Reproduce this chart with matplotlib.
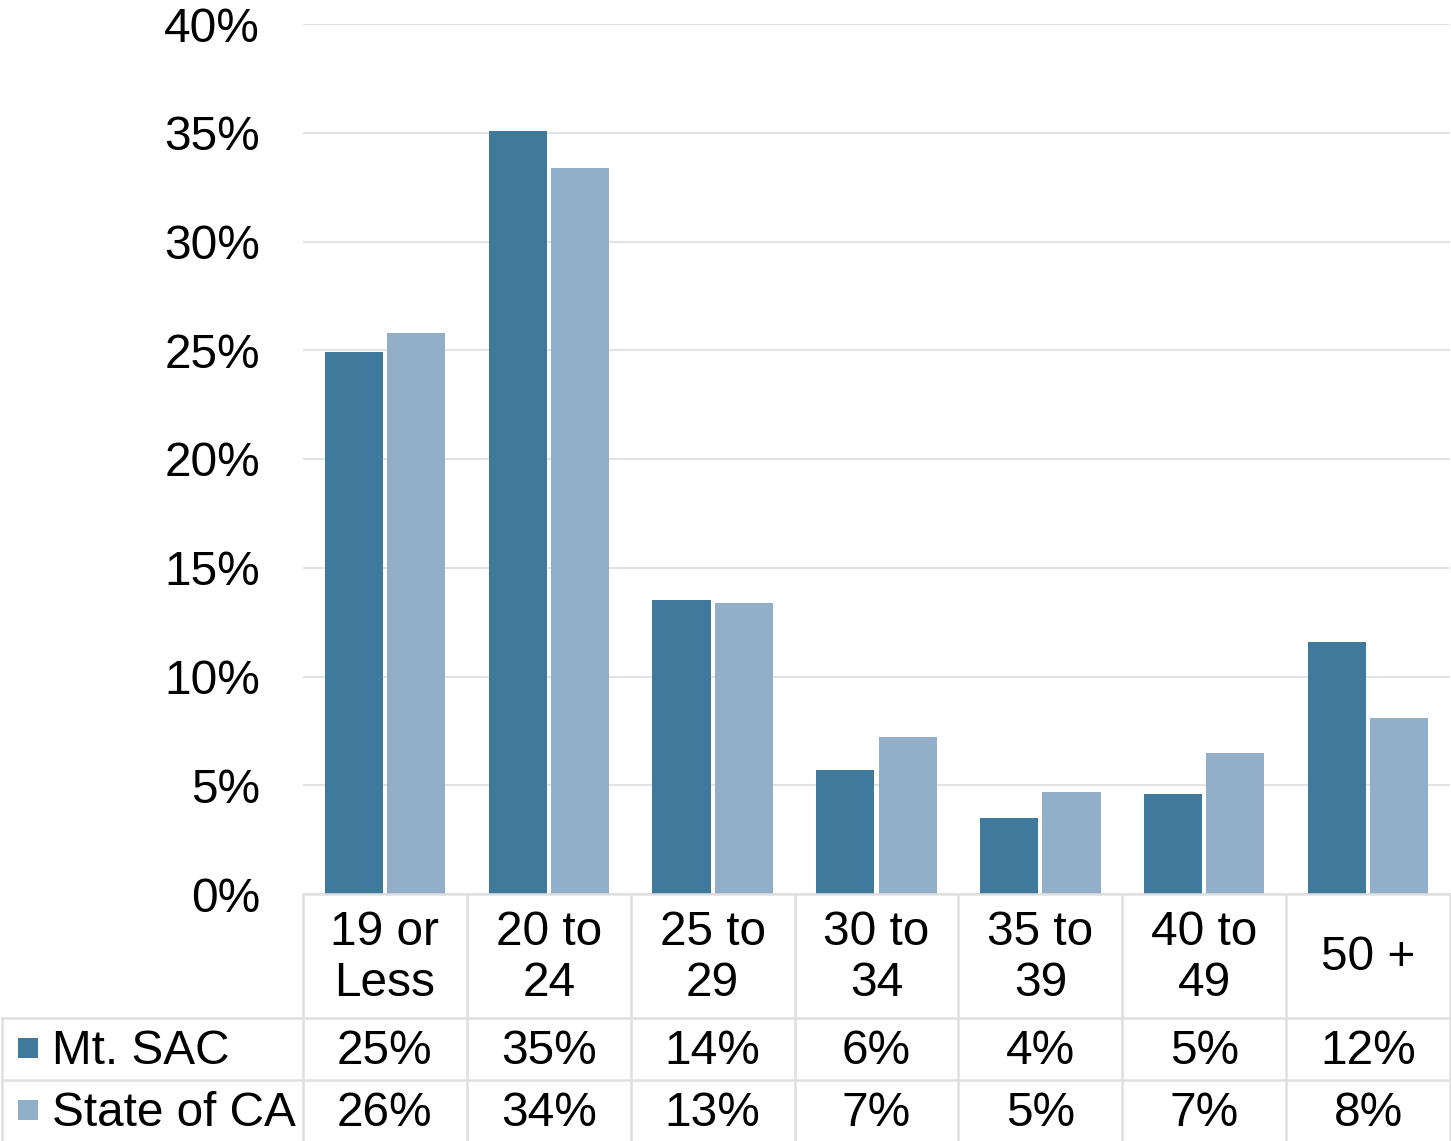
import matplotlib
matplotlib.use("Agg")
import matplotlib.pyplot as plt
from matplotlib.lines import Line2D
from matplotlib.patches import Rectangle
import matplotlib.transforms as mtransforms
import numpy as np

plt.rcParams['font.family'] = ['Liberation Sans', 'DejaVu Sans']

categories = ["19 or\nLess", "20 to\n24", "25 to\n29", "30 to\n34", "35 to\n39", "40 to\n49", "50 +"]
series_names = ["Mt. SAC", "State of CA"]
mt_sac = [24.9, 35.1, 13.5, 5.7, 3.5, 4.6, 11.6]
state_ca = [25.8, 33.4, 13.4, 7.2, 4.7, 6.5, 8.1]
mt_sac_labels = ["25%", "35%", "14%", "6%", "4%", "5%", "12%"]
state_ca_labels = ["26%", "34%", "13%", "7%", "5%", "7%", "8%"]
yticks = [0, 5, 10, 15, 20, 25, 30, 35, 40]

colors = ["#3F7A9C", "#92AFC9"]
grid_c = "#E3E3E3"
FS = 34.4

W, H = 1451, 1141
fig = plt.figure(figsize=(W / 100, H / 100), dpi=100)
left, right, top, bottom = 303, 1450, 24, 894
ax = fig.add_axes([left / W, 1 - bottom / H, (right - left) / W, (bottom - top) / H])

x = np.arange(len(categories))
bw = 0.355
ax.bar(x - 0.19, mt_sac, width=bw, color=colors[0], zorder=3)
ax.bar(x + 0.19, state_ca, width=bw, color=colors[1], zorder=3)

ax.set_xlim(-0.5, len(categories) - 0.5)
ax.set_ylim(0, 40)
ax.set_yticks(yticks)
ax.set_yticklabels([f"{t}%" for t in yticks], fontsize=FS)
ax.tick_params(axis='y', length=0, pad=31)
ax.set_xticks([])
for s in ax.spines.values():
    s.set_visible(False)
ax.yaxis.grid(True, color=grid_c, linewidth=1.5, zorder=0)
ax.set_axisbelow(True)

# Data table
tr = mtransforms.blended_transform_factory(ax.transData, fig.transFigure)
def fy(p):
    return 1 - p / H

r0, r1, r2, r3 = 894, 1018, 1080, 1141
n = len(categories)
lc = "#E0E0E0"
lw = 1.8
fig.add_artist(Line2D([-0.5, n - 0.5], [fy(r0), fy(r0)], transform=tr, color=lc, lw=lw))
for r in (r1, r2):
    fig.add_artist(Line2D([2 / W, right / W], [fy(r), fy(r)], transform=fig.transFigure, color=lc, lw=lw))
for i in range(n + 1):
    fig.add_artist(Line2D([i - 0.5, i - 0.5], [fy(r0), fy(r3)], transform=tr, color=lc, lw=lw))
fig.add_artist(Line2D([2 / W, 2 / W], [fy(r1), fy(r3)], transform=fig.transFigure, color=lc, lw=lw))

for i, c in enumerate(categories):
    fig.text(i, fy(958), c, transform=tr, ha='center', va='center',
             fontsize=FS, linespacing=1.15)
    fig.text(i, fy(1051), mt_sac_labels[i], transform=tr, ha='center', va='center', fontsize=FS)
    fig.text(i, fy(1113), state_ca_labels[i], transform=tr, ha='center', va='center', fontsize=FS)

for k, (name, col) in enumerate(zip(series_names, colors)):
    cy = 1048 if k == 0 else 1110
    fig.add_artist(Rectangle((18 / W, fy(cy + 10)), 20 / W, 20 / H, transform=fig.transFigure,
                             facecolor=col, edgecolor='none'))
    fig.text(52 / W, fy(cy + 3), name, ha='left', va='center', fontsize=FS)

fig.savefig("out.png", dpi=100)
